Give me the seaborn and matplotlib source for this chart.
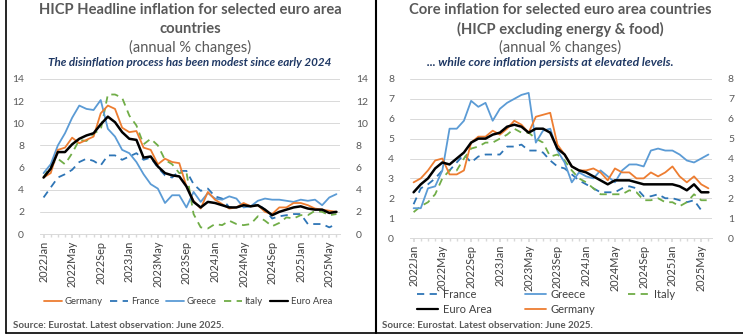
import numpy as np
import pandas as pd
import matplotlib
matplotlib.use("Agg")
import matplotlib.pyplot as plt
from matplotlib.lines import Line2D
import seaborn as sns

# ---------------- data ----------------
years = [2022, 2023, 2024, 2025]
month_names = ["Jan", "Feb", "Mar", "Apr", "May", "Jun", "Jul", "Aug", "Sep", "Oct", "Nov", "Dec"]
periods = [f"{y}{m}" for y in years for m in month_names][:42]  # 2022Jan .. 2025Jun
tick_labels = periods[::4]

# Headline HICP (annual % changes)
head_germany = [5.1, 5.5, 7.6, 7.8, 8.7, 8.2, 8.5, 8.8, 10.9, 11.6, 11.3, 9.6,
                9.2, 9.3, 7.8, 7.6, 6.3, 6.8, 6.5, 6.4, 4.3, 3.0, 2.3, 3.8,
                3.1, 2.7, 2.3, 2.4, 2.8, 2.5, 2.6, 2.0, 1.8, 2.4, 2.4, 2.8,
                2.8, 2.6, 2.3, 2.2, 2.1, 2.0]
head_france = [3.3, 4.2, 5.1, 5.4, 5.8, 6.5, 6.8, 6.6, 6.2, 7.1, 7.1, 6.7,
               7.0, 7.3, 6.7, 6.9, 6.0, 5.3, 5.1, 5.7, 5.7, 4.5, 3.9, 4.1,
               3.4, 3.2, 2.4, 2.4, 2.6, 2.5, 2.7, 2.2, 1.4, 1.6, 1.7, 1.8,
               1.8, 0.9, 0.9, 0.9, 0.6, 0.9]
head_greece = [5.5, 6.3, 8.0, 9.1, 10.5, 11.6, 11.3, 11.2, 12.1, 9.5, 8.8, 7.6,
               7.3, 6.5, 5.4, 4.5, 4.1, 2.8, 3.5, 3.5, 2.4, 3.8, 2.9, 3.7,
               3.2, 3.1, 3.4, 3.2, 2.4, 2.5, 3.0, 3.2, 3.1, 3.1, 3.0, 2.9,
               3.1, 3.0, 3.1, 2.6, 3.3, 3.6]
head_italy = [5.1, 6.2, 6.8, 6.3, 7.3, 8.5, 8.4, 9.1, 9.4, 12.6, 12.6, 12.3,
              10.7, 9.8, 8.1, 8.6, 8.0, 6.7, 6.3, 5.5, 5.6, 1.8, 0.6, 0.5,
              0.9, 0.8, 1.2, 0.9, 0.8, 0.9, 1.6, 1.2, 0.7, 1.0, 1.5, 1.4,
              1.7, 1.7, 2.1, 2.0, 1.7, 1.8]
head_euro = [5.1, 5.9, 7.4, 7.4, 8.1, 8.6, 8.9, 9.1, 9.9, 10.6, 10.1, 9.2,
             8.6, 8.5, 6.9, 7.0, 6.1, 5.5, 5.3, 5.2, 4.3, 2.9, 2.4, 2.9,
             2.8, 2.6, 2.4, 2.4, 2.6, 2.5, 2.6, 2.2, 1.7, 2.0, 2.2, 2.4,
             2.5, 2.3, 2.2, 2.2, 1.9, 2.0]

# Core inflation (HICP excluding energy & food)
core_france = [1.7, 2.5, 2.7, 3.0, 3.4, 3.4, 3.8, 4.2, 3.8, 4.1, 4.2, 4.2,
               4.2, 4.6, 4.6, 4.7, 4.4, 4.4, 4.3, 3.9, 3.6, 3.5, 3.2, 2.9,
               2.7, 2.5, 2.3, 2.3, 2.3, 2.5, 2.6, 2.5, 2.1, 2.1, 2.2, 2.0,
               2.0, 1.9, 1.8, 1.9, 1.4, np.nan]
core_greece = [1.5, 1.5, 2.5, 2.6, 3.4, 5.5, 5.5, 5.9, 6.9, 6.6, 6.8, 5.9,
               6.5, 6.8, 7.0, 7.2, 7.3, 4.8, 5.4, 5.5, 4.4, 3.8, 2.8, 3.3,
               3.1, 3.0, 3.4, 3.1, 2.8, 3.4, 3.7, 3.7, 3.6, 4.4, 4.5, 4.4,
               4.4, 4.2, 3.9, 3.8, 4.0, 4.2]
core_italy = [1.3, 1.6, 1.8, 2.2, 3.0, 3.4, 3.4, 4.0, 4.5, 4.6, 4.8, 4.8,
              5.0, 5.2, 5.5, 5.3, 5.3, 5.0, 4.8, 4.1, 4.2, 3.9, 3.4, 3.0,
              2.8, 2.5, 2.2, 2.2, 2.2, 2.2, 2.4, 2.3, 1.9, 1.9, 2.0, 1.8,
              1.8, 1.6, 1.8, 2.2, 1.9, 1.9]
core_euro = [2.3, 2.7, 3.0, 3.5, 3.8, 3.7, 4.0, 4.3, 4.8, 5.0, 5.0, 5.2,
             5.3, 5.6, 5.7, 5.6, 5.3, 5.5, 5.5, 5.3, 4.5, 4.2, 3.6, 3.4,
             3.3, 3.1, 2.9, 2.7, 2.9, 2.9, 2.9, 2.8, 2.7, 2.7, 2.7, 2.7,
             2.7, 2.6, 2.4, 2.7, 2.3, 2.3]
core_germany = [2.8, 3.0, 3.4, 3.9, 4.0, 3.2, 3.2, 3.4, 4.8, 5.1, 5.1, 5.4,
                5.2, 5.5, 5.9, 5.7, 5.3, 6.1, 6.2, 6.3, 4.7, 4.2, 3.6, 3.4,
                3.4, 3.5, 3.3, 2.9, 3.5, 3.3, 3.3, 3.0, 3.0, 3.3, 3.1, 3.3,
                3.6, 3.1, 2.8, 3.1, 2.7, 2.5]

# ---------------- style ----------------
sns.set_theme(style="white")
plt.rcParams["font.family"] = ["Lato", "DejaVu Sans"]

C_GER = "#ED7D31"
C_FRA = "#2E75B6"
C_GRE = "#5B9BD5"
C_ITA = "#70AD47"
C_EUR = "#000000"
GRAY = "#595959"
NAVY = "#1F3864"

styles = {
    "Germany": dict(color=C_GER, ls="-", lw=1.3),
    "France": dict(color=C_FRA, ls=(0, (4, 3)), lw=1.3),
    "Greece": dict(color=C_GRE, ls="-", lw=1.3),
    "Italy": dict(color=C_ITA, ls=(0, (4, 3)), lw=1.3),
    "Euro Area": dict(color=C_EUR, ls="-", lw=1.8),
}

fig = plt.figure(figsize=(7.43, 3.34), dpi=100)
W, H = 743, 334

def fx(px):
    return px / W

def fy(py):
    return 1 - py / H

ax1 = fig.add_axes([fx(40), fy(234), fx(300), 155 / H])
ax2 = fig.add_axes([fx(410), fy(238), fx(302), 159 / H])

x = np.arange(len(periods))

def draw(ax, series, ymax, order):
    for name in order:
        vals = series[name]
        st = styles[name]
        df = pd.DataFrame({"x": x, "y": vals})
        sns.lineplot(data=df, x="x", y="y", ax=ax, color=st["color"],
                     linewidth=st["lw"], linestyle=st["ls"], label=name,
                     legend=False)
    ax.set_xlim(-0.5, len(periods) - 0.5)
    ax.set_ylim(0, ymax)
    ax.set_yticks(range(0, ymax + 1, 2 if ymax > 8 else 1))
    ax.set_xticks(x[::4])
    ax.set_xticklabels(tick_labels, rotation=90)
    ax.set_xticks(x, minor=True)
    ax.set_xlabel("")
    ax.set_ylabel("")
    ax.grid(axis="y", color="#D9D9D9", lw=0.7)
    ax.grid(axis="x", visible=False)
    for s in ["top", "left", "right"]:
        ax.spines[s].set_visible(False)
    ax.spines["bottom"].set_color("#D9D9D9")
    ax.spines["bottom"].set_linewidth(0.7)
    ax.tick_params(axis="y", which="both", left=False, right=False,
                   labelleft=True, labelright=True, labelsize=7.5,
                   labelcolor=GRAY, pad=5.5)
    ax.tick_params(axis="x", which="major", bottom=True, length=3,
                   color="#D9D9D9", labelsize=7.8, labelcolor="#404040", pad=2)
    ax.tick_params(axis="x", which="minor", bottom=True, length=2,
                   color="#D9D9D9")
    ax.set_axisbelow(True)

head = {"Germany": head_germany, "France": head_france, "Greece": head_greece,
        "Italy": head_italy, "Euro Area": head_euro}
core = {"France": core_france, "Greece": core_greece, "Italy": core_italy,
        "Euro Area": core_euro, "Germany": core_germany}

draw(ax1, head, 14, ["France", "Italy", "Greece", "Germany", "Euro Area"])
draw(ax2, core, 8, ["France", "Italy", "Greece", "Germany", "Euro Area"])

def handle(name):
    st = styles[name]
    return Line2D([0], [0], color=st["color"], ls=st["ls"],
                  lw=st["lw"] if name != "Euro Area" else 1.6)

leg1_names = ["Germany", "France", "Greece", "Italy", "Euro Area"]
fig.legend([handle(n) for n in leg1_names], leg1_names, loc="center",
           bbox_to_anchor=(fx(188), fy(302)), ncol=5, frameon=False,
           fontsize=6.8, handlelength=1.9, handletextpad=0.3, columnspacing=0.75,
           labelcolor="#404040")

leg2_names = ["France", "Euro Area", "Greece", "Germany", "Italy"]
fig.legend([handle(n) for n in leg2_names], leg2_names, loc="center",
           bbox_to_anchor=(fx(546), fy(302)), ncol=3, frameon=False,
           fontsize=8, handlelength=1.9, handletextpad=0.4, columnspacing=3.0,
           labelspacing=0.3, labelcolor="#404040")

# titles
fig.text(fx(190), fy(10), "HICP Headline inflation for selected euro area",
         ha="center", va="center", fontsize=10.6, fontweight="bold", color=GRAY)
fig.text(fx(190), fy(29), "countries", ha="center", va="center",
         fontsize=10.6, fontweight="bold", color=GRAY)
fig.text(fx(190), fy(47), "(annual % changes)", ha="center", va="center",
         fontsize=10.5, color=GRAY)
fig.text(fx(190), fy(63), "The disinflation process has been modest since early 2024",
         ha="center", va="center", fontsize=8.4, fontweight="bold",
         fontstyle="italic", color=NAVY)

fig.text(fx(560), fy(10), "Core inflation for selected euro area countries",
         ha="center", va="center", fontsize=10.6, fontweight="bold", color=GRAY)
fig.text(fx(560), fy(29), "(HICP excluding energy & food)", ha="center",
         va="center", fontsize=10.6, fontweight="bold", color=GRAY)
fig.text(fx(560), fy(47), "(annual % changes)", ha="center", va="center",
         fontsize=10.5, color=GRAY)
fig.text(fx(550), fy(63), "... while core inflation persists at elevated levels.",
         ha="center", va="center", fontsize=8.8, fontweight="bold",
         fontstyle="italic", color=NAVY)

fig.text(fx(13), fy(325), "Source: Eurostat. Latest observation: June 2025.",
         ha="left", va="center", fontsize=7, fontweight="bold", color=GRAY)
fig.text(fx(382), fy(325), "Source: Eurostat. Latest observation: June 2025.",
         ha="left", va="center", fontsize=7, fontweight="bold", color=GRAY)

# panel borders
for l in [Line2D([fx(6), fx(6)], [fy(333), 1], color="black", lw=1.2),
          Line2D([fx(375.5), fx(375.5)], [fy(333), 1], color="black", lw=1.5),
          Line2D([fx(6), 1], [fy(333), fy(333)], color="black", lw=1.2)]:
    fig.add_artist(l)

fig.savefig("out.png", dpi=100)
